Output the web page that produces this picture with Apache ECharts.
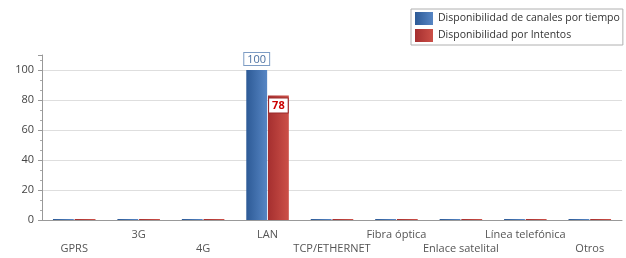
<!DOCTYPE html>
<html>
<head>
<meta charset="utf-8">
<script src="https://cdn.jsdelivr.net/npm/echarts@6/dist/echarts.min.js"></script>
<style>
  html, body { margin: 0; padding: 0; background: #fff; }
  #mychart { width: 626px; height: 258px; }
</style>
</head>
<body>
<div id="mychart"></div>
<script>
var categories = ['GPRS', '3G', '4G', 'LAN', 'TCP/ETHERNET', 'Fibra óptica', 'Enlace satelital', 'Línea telefónica', 'Otros'];
var tiempoValues = [0, 0, 0, 100, 0, 0, 0, 0, 0];
var intentosValues = [0, 0, 0, 83, 0, 0, 0, 0, 0];
var intentosLabels = ['', '', '', '78', '', '', '', '', ''];
var yTicks = [0, 20, 40, 60, 80, 100];
var seriesNames = ['Disponibilidad de canales por tiempo', 'Disponibilidad por Intentos'];

var fontName = '"Open Sans", "Noto Sans", sans-serif';

function grad(c1, c2) {
    return new echarts.graphic.LinearGradient(0, 0, 1, 0, [
        { offset: 0, color: c1 },
        { offset: 1, color: c2 }
    ]);
}

// barras en cero sin etiqueta
function withLabels(values, texts) {
    return values.map(function (v, i) {
        var txt = texts ? texts[i] : String(v);
        return { value: v, label: { show: v > 0 && txt !== '' } };
    });
}

var chart = echarts.init(document.getElementById('mychart'));
var option = {
    animation: false,
    textStyle: { fontFamily: fontName },
    legend: {
        orient: 'vertical',
        left: 411,
        top: 9,
        itemWidth: 18,
        itemHeight: 13,
        itemGap: 4,
        padding: [3, 3, 3, 4],
        borderColor: '#b0b0b0',
        borderWidth: 1,
        icon: 'rect',
        textStyle: { fontSize: 10.5, color: '#333', fontFamily: fontName },
        data: seriesNames
    },
    grid: { left: 42, right: 4, top: 55, bottom: 38 },
    xAxis: {
        type: 'category',
        data: categories,
        axisLine: { lineStyle: { color: '#999' } },
        axisTick: { alignWithLabel: true, length: 3, lineStyle: { color: '#999' } },
        axisLabel: {
            interval: 0,
            color: '#555',
            fontSize: 11,
            lineHeight: 14,
            margin: 8,
            formatter: function (v, i) { return i % 2 === 0 ? '\n' + v : v; }
        }
    },
    yAxis: {
        type: 'value',
        min: 0,
        max: 110,
        interval: 20,
        axisLine: { show: true, lineStyle: { color: '#999' } },
        axisTick: { show: true, length: 4, lineStyle: { color: '#999' } },
        minorTick: { show: true, splitNumber: 3, length: 2, lineStyle: { color: '#aaa' } },
        splitLine: { show: false },
        axisLabel: {
            color: '#444',
            fontSize: 11,
            margin: 8,
            formatter: function (v) { return v > 100 ? '' : v; }
        }
    },
    series: [{
        name: seriesNames[0],
        type: 'bar',
        barGap: '4%',
        barCategoryGap: '34%',
        barMinHeight: 1,
        data: withLabels(tiempoValues),
        itemStyle: { color: grad('#2d5a96', '#5786c4') },
        markLine: {
            silent: true,
            symbol: 'none',
            label: { show: false },
            lineStyle: { color: '#dedede', type: 'solid', width: 1 },
            z: 0,
            data: yTicks.slice(1).map(function (t) { return { yAxis: t }; })
        },
        label: {
            position: 'top',
            distance: 5,
            color: '#4a6fa0',
            fontSize: 11,
            backgroundColor: '#fff',
            borderColor: '#7d9cc4',
            borderWidth: 1,
            padding: [1, 3, 0, 3]
        }
    }, {
        name: seriesNames[1],
        type: 'bar',
        barMinHeight: 1,
        data: withLabels(intentosValues, intentosLabels),
        itemStyle: { color: grad('#a52f2f', '#cc5048') },
        label: {
            position: 'insideTop',
            distance: 3,
            color: '#cc0000',
            fontWeight: 'bold',
            fontSize: 11,
            backgroundColor: '#fff',
            borderColor: '#9a2a2a',
            borderWidth: 1,
            padding: [2, 3, 1, 3],
            formatter: function (p) { return intentosLabels[p.dataIndex]; }
        }
    }]
};
chart.setOption(option);
</script>
</body>
</html>
